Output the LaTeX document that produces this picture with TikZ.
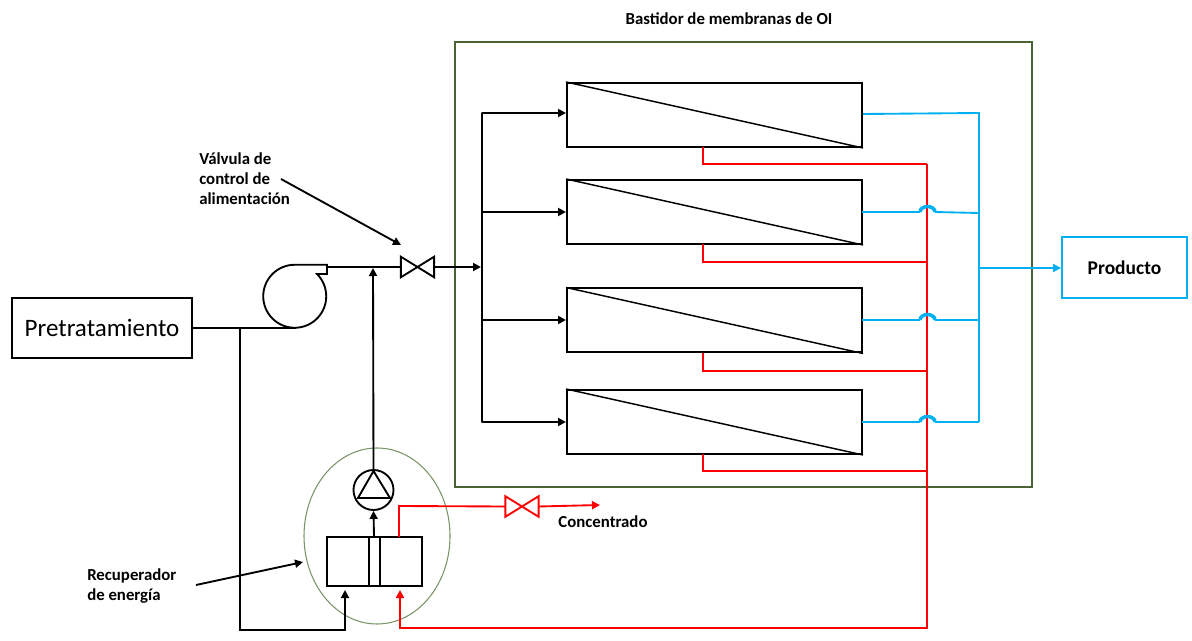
\documentclass[tikz,border=0pt]{standalone}
\usepackage{fontspec}
\setmainfont{Carlito}
\usetikzlibrary{arrows.meta,calc,shapes.geometric}

\definecolor{bastidor}{HTML}{4A6234}
\definecolor{recup}{HTML}{7A9468}
\definecolor{azul}{HTML}{00B0F0}
\definecolor{rojo}{HTML}{FF0000}

\tikzset{
    linea/.style={line width=1.4pt},
    azulinea/.style={line width=1.4pt, azul},
    rojolinea/.style={line width=1.4pt, rojo},
    membrana/.style={draw, line width=1.5pt, inner sep=0pt, minimum width=221.25pt, minimum height=48pt},
    valvula/.style={inner sep=0pt, minimum width=24.5pt, minimum height=15pt},
    etiqueta/.style={font=\bfseries\fontsize{12.6}{15}\selectfont, align=left, inner sep=0pt}
}

\begin{document}
\begin{tikzpicture}[x=0.75pt, y=-0.75pt, >={Triangle[length=6pt,width=6pt]}]

    \useasboundingbox (0,0) rectangle (1192,641);

    % Membrane rack and energy recovery outline
    \node[draw=bastidor, line width=1.4pt, inner sep=0pt, minimum width=432.75pt, minimum height=333.75pt] (rack) at (743.5,264.5) {};
    \node[draw=recup, line width=0.8pt, ellipse, inner sep=0pt, minimum width=109.5pt, minimum height=132pt] (ring) at (377,536) {};
    \node[etiqueta, anchor=center] (rackname) at (729,19) {Bastidor de membranas de OI};

    % Inlet and outlet boxes
    \node[draw, line width=1.4pt, inner sep=0pt, minimum width=135pt, minimum height=45pt, font=\fontsize{18.8}{22}\selectfont] (pre) at (102,328) {Pretratamiento};
    \node[draw=azul, line width=1.4pt, inner sep=0pt, minimum width=93.75pt, minimum height=45.75pt, font=\bfseries\fontsize{14.6}{17}\selectfont] (prod) at (1124.5,267.5) {Producto};

    % Membranes
    \foreach \n/\y in {1/115, 2/212, 3/320.5, 4/422} {
        \node[membrana] (m\n) at (714.5,\y) {};
        \draw[line width=1.1pt] (m\n.north west) -- (m\n.south east);
    }

    % Feed header
    \coordinate (b1) at (482,113);
    \coordinate (b2) at (482,212);
    \coordinate (b3) at (482,320);
    \coordinate (b4) at (482,422);
    \coordinate (binlet) at (481,267);
    \draw[linea, line cap=round] (b1) -- (b4);
    \foreach \n in {1,2,3,4}
        \draw[linea, ->] (b\n) -- (b\n -| m\n.west);

    % Reject lines
    \coordinate (r1) at (927,164);
    \coordinate (r2) at (927,262);
    \coordinate (r3) at (927,371);
    \coordinate (r4) at (927,471);
    \coordinate (s1) at (703,147);
    \coordinate (s2) at (703,244);
    \coordinate (s3) at (703,353);
    \coordinate (s4) at (703,454);
    \coordinate (rcorner) at (927,628);
    \coordinate (rback) at (400,628);
    \coordinate (rin) at (400,590);
    \foreach \n in {1,2,3,4}
        \draw[rojolinea] (s\n) |- (r\n);
    \draw[rojolinea, ->] (r1) -- (rcorner) -- (rback) -- (rin);

    % Permeate lines
    \coordinate (p1) at (979,113);
    \coordinate (p2) at (979,213);
    \coordinate (p3) at (979,320);
    \coordinate (p4) at (979,422);
    \coordinate (pout) at (979,268);
    \draw[azulinea] (m1.east |- 0,114) -- (p1) -- (p4);
    \draw[azulinea, ->] (pout) -- (pout -| prod.west);
    \foreach \n/\y in {2/212, 3/320, 4/422} {
        \coordinate (ha\n) at (920,\y);
        \coordinate (hb\n) at (935,\y);
        \draw[azulinea] (862,\y) -- (ha\n);
        \draw[azulinea] (hb\n) -- (p\n);
        \draw[azul, line width=2.6pt] (ha\n) arc[start angle=180, end angle=360, x radius=7.5, y radius=5.5];
    }

    % Feed pump
    \coordinate (pmpin) at (296,328);
    \coordinate (pmpout) at (327,267);
    \coordinate (tee) at (240,328);
    \draw[linea] (327,267) -- (327,274) -- (317,274) arc[start angle=-45, end angle=270, radius=31.5] -- (327,264.8) -- (pmpout);
    \draw[linea] (pre.east |- pmpin) -- (pmpin);

    % Feed valve
    \node[valvula] (vfeed) at (417.5,267) {};
    \draw[linea] (vfeed.north west) -- (vfeed.south east) -- (vfeed.north east) -- (vfeed.south west) -- cycle;
    \draw[linea] (pmpout) -- (vfeed.west);
    \draw[linea, ->] (vfeed.east) -- (binlet);

    % Energy recovery unit
    \node[draw, line width=1.4pt, inner sep=0pt, minimum width=71.25pt, minimum height=36.75pt] (erd) at (374.5,561.5) {};
    \draw[linea] (369,537) -- (369,586);
    \draw[linea] (380,537) -- (380,586);
    \node[draw, circle, line width=1.4pt, inner sep=0pt, minimum size=30pt] (boost) at (373.5,490) {};
    \draw[linea] (373.5,471) -- (358,498) -- (390,498) -- cycle;
    \coordinate (erdtop) at (374,537);
    \coordinate (jfeed) at (373,268);
    \draw[linea, ->] (erdtop) -- (boost.south);
    \draw[linea, ->] (boost.north) -- (jfeed);

    % Low pressure feed to recovery unit
    \coordinate (lowdown) at (240,630);
    \coordinate (lowright) at (345,630);
    \coordinate (lowin) at (345,590);
    \draw[linea, ->] (tee) -- (lowdown) -- (lowright) -- (lowin);

    % Concentrate
    \node[valvula] (vconc) at (522,506.5) {};
    \draw[rojolinea] (vconc.north west) -- (vconc.south east) -- (vconc.north east) -- (vconc.south west) -- cycle;
    \coordinate (cstart) at (399,537);
    \coordinate (cup) at (399,506);
    \coordinate (cout) at (600,505);
    \draw[rojolinea] (cstart) -- (cup) -- (vconc.west);
    \draw[rojolinea, ->] (vconc.east) -- (cout);
    \node[etiqueta, anchor=center] (conc) at (603,522) {Concentrado};

    % Callouts
    \node[etiqueta, anchor=west] (lblv) at (199,179) {Válvula de\\control de\\alimentación};
    \node[etiqueta, anchor=west] (lblr) at (87,586) {Recuperador\\de energía};
    \coordinate (av) at (281,179);
    \coordinate (avt) at (401,245);
    \coordinate (ar) at (196,585);
    \coordinate (art) at (303,562);
    \draw[linea, ->] (av) -- (avt);
    \draw[linea, ->] (ar) -- (art);

\end{tikzpicture}
\end{document}
